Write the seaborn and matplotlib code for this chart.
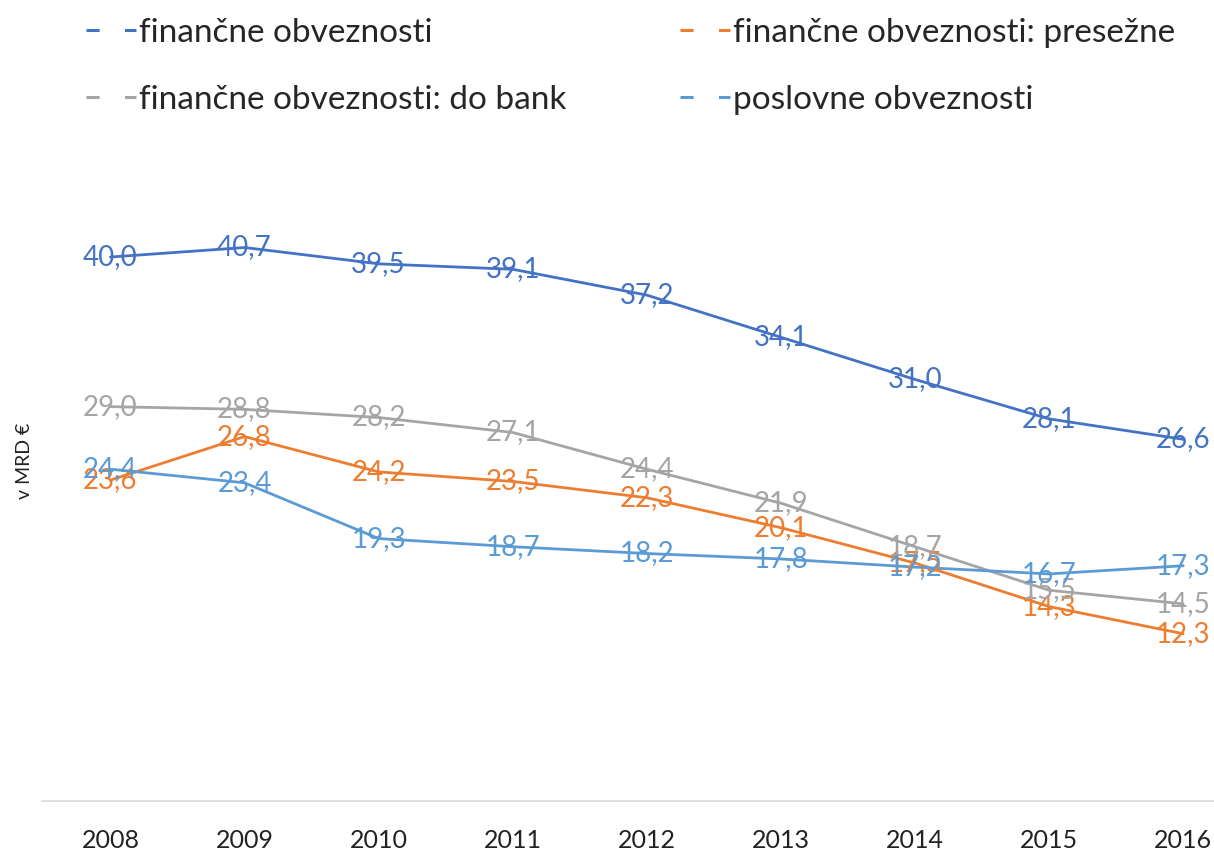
import matplotlib
matplotlib.use("Agg")
import matplotlib.pyplot as plt
from matplotlib.lines import Line2D
import seaborn as sns
import pandas as pd

years = ["2008", "2009", "2010", "2011", "2012", "2013", "2014", "2015", "2016"]
series_names = [
    "finančne obveznosti",
    "finančne obveznosti: presežne",
    "finančne obveznosti: do bank",
    "poslovne obveznosti",
]
fin = [40.0, 40.7, 39.5, 39.1, 37.2, 34.1, 31.0, 28.1, 26.6]
presezne = [23.6, 26.8, 24.2, 23.5, 22.3, 20.1, 17.5, 14.3, 12.3]
do_bank = [29.0, 28.8, 28.2, 27.1, 24.4, 21.9, 18.7, 15.5, 14.5]
poslovne = [24.4, 23.4, 19.3, 18.7, 18.2, 17.8, 17.2, 16.7, 17.3]
colors = ["#4472C4", "#ED7D31", "#A5A5A5", "#5B9BD5"]

sns.set_theme(style="white")
plt.rcParams["font.family"] = ["Lato", "DejaVu Sans"]

values = [fin, presezne, do_bank, poslovne]
rows = []
for name, vals in zip(series_names, values):
    for i, (y, v) in enumerate(zip(years, vals)):
        rows.append({"x": i, "year": y, "value": v, "series": name})
df = pd.DataFrame(rows)

fig = plt.figure(figsize=(12.14, 8.5), dpi=100)
ax = fig.add_axes([0.035, 0.0576, 0.965, 0.8])
sns.lineplot(data=df, x="x", y="value", hue="series", hue_order=series_names,
             palette=colors, linewidth=2.0, ax=ax, legend=False, sort=False)

for name, vals, c in zip(series_names, values, colors):
    for i, v in enumerate(vals):
        ax.text(i, v, f"{v:.1f}".replace(".", ","), color=c, fontsize=20,
                ha="center", va="center")

ax.set_ylim(0, 50)
ax.set_xlim(-0.507, 8.23)
ax.set_xticks(range(len(years)))
ax.set_xticklabels(years, fontsize=18, color="#222222")
ax.tick_params(axis="x", length=0, pad=20)
ax.set_yticks([])
ax.set_xlabel("")
ax.set_ylabel("v MRD €", fontsize=14, color="#222222")
ax.yaxis.set_label_coords(-0.008, 0.5)
for s in ["top", "right", "left"]:
    ax.spines[s].set_visible(False)
ax.spines["bottom"].set_color("#D9D9D9")
ax.spines["bottom"].set_linewidth(1.2)

handles = [Line2D([0], [0], color=c, linewidth=2.2, linestyle=(0, (4.3, 8.3)))
           for c in colors]
order = [0, 2, 1, 3]
fig.legend([handles[i] for i in order], [series_names[i] for i in order],
           ncol=2, loc="upper left", bbox_to_anchor=(0.046, 1.014),
           frameon=False, fontsize=24, handlelength=1.5, handletextpad=0.1,
           labelspacing=1.1, columnspacing=3.4)

fig.savefig("out.png", dpi=100)
